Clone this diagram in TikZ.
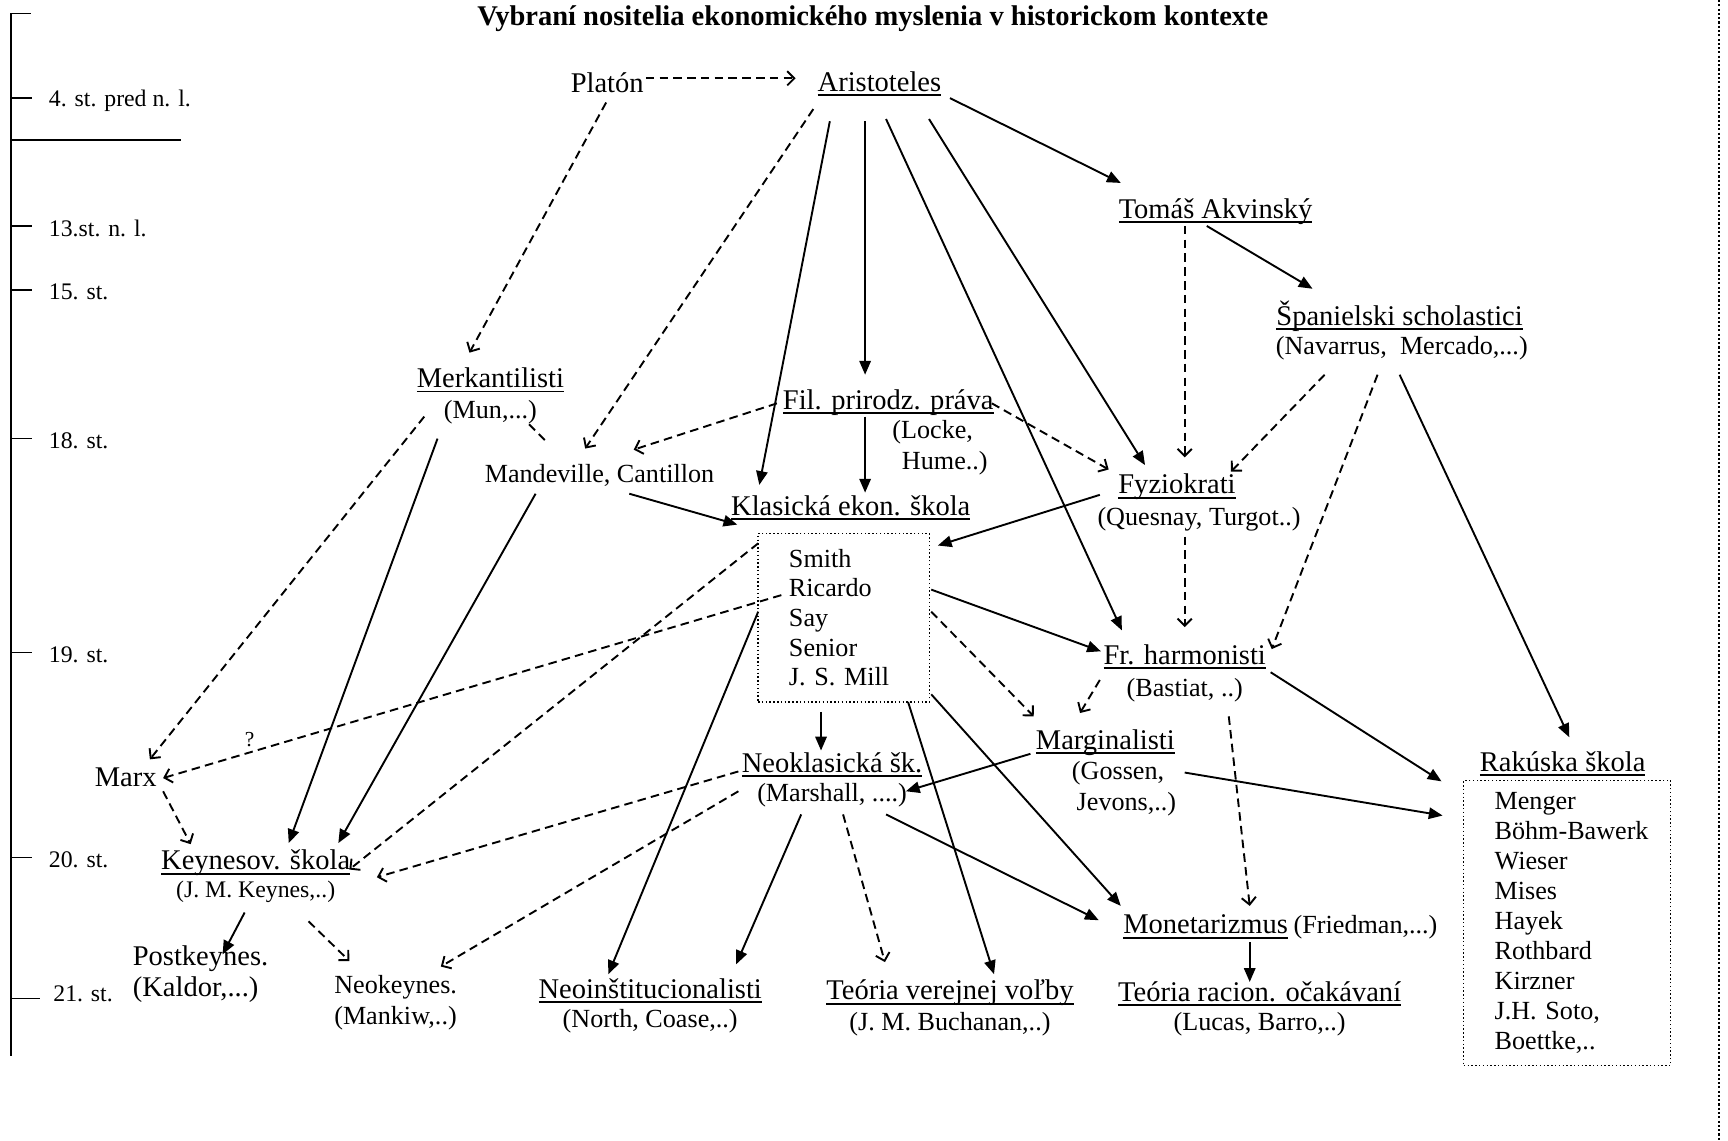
\documentclass[tikz,border=0pt]{standalone}
\usepackage{fontspec}
\setmainfont{Liberation Serif}
\usetikzlibrary{arrows.meta,calc,positioning}

\newsavebox{\ulnbox}
\newcommand{\uln}[1]{\sbox{\ulnbox}{#1}\rlap{\rule[-2pt]{\wd\ulnbox}{0.8pt}}\usebox{\ulnbox}}

\tikzset{
  head/.style={font=\fontsize{12}{13}\selectfont, inner sep=1pt},
  names/.style={font=\fontsize{11}{13}\selectfont, inner sep=1pt, align=center},
  era/.style={font=\fontsize{10}{12}\selectfont, anchor=west, inner sep=0pt},
  listbox/.style={draw, line width=0.5pt, dash pattern=on 0.6pt off 1pt, align=left,
    font=\fontsize{11}{12.5}\selectfont, inner xsep=13pt, inner ysep=0pt},
  sarrow/.style={line width=0.8pt, -{Triangle[length=5.8pt,width=4.8pt]}},
  darrow/.style={line width=0.8pt, dash pattern=on 3.6pt off 2.2pt, -{Straight Barb[length=3pt,width=6pt]}},
  dline/.style={line width=0.8pt, dash pattern=on 3.6pt off 2.2pt},
}

\begin{document}
\begin{tikzpicture}[x=0.4638pt,y=-0.4638pt]
  \useasboundingbox (0,0) rectangle (1568,1035);

  % time axis
  \draw[line width=0.6pt] (28,12) -- (10,12) -- (10,958);
  \draw[line width=0.6pt] (10,89) -- (29,89);
  \node[era] (e4) at (44,91) {4. st. pred n. l.};
  \draw[line width=0.5pt] (10,127) -- (164,127);
  \draw[line width=0.6pt] (10,205) -- (29,205);
  \node[era] (e13) at (44,207) {13.st. n. l.};
  \draw[line width=0.6pt] (10,263) -- (29,263);
  \node[era] (e15) at (44,265) {15. st.};
  \draw[line width=0.6pt] (10,398) -- (29,398);
  \node[era] (e18) at (44,400) {18. st.};
  \draw[line width=0.6pt] (10,592) -- (29,592);
  \node[era] (e19) at (44,594) {19. st.};
  \draw[line width=0.6pt] (10,778) -- (29,778);
  \node[era] (e20) at (44,780) {20. st.};
  \draw[line width=0.6pt] (10,906) -- (36,906);
  \node[era] (e21) at (48,902) {21. st.};
  \draw[line width=0.9pt, dash pattern=on 0.9pt off 0.9pt] (1560,0) -- (1560,1035);

  \node[font=\bfseries\fontsize{12}{14}\selectfont] (title) at (792,17)
    {Vybraní nositelia ekonomického myslenia v historickom kontexte};

  % schools and people
  \node[head] (plato) at (551,75) {Platón};
  \node[head] (aris) at (798,76) {\uln{Aristoteles}};
  \node[head] (tomas) at (1103,192) {\uln{Tomáš Akvinský}};
  \node[head] (span) at (1270,287) {\uln{Španielski scholastici}};
  \node[names] (spannames) at (1272,316) {(Navarrus,\ \ Mercado,...)};
  \node[head] (merk) at (445,345) {\uln{Merkantilisti}};
  \node[names] (merknames) at (445,374) {(Mun,...)};
  \node[head] (filo) at (806,365) {\uln{Fil. prirodz. práva}};
  \node[names, align=left] (filonames) at (853,406) {(Locke,\\\hspace{4pt}Hume..)};
  \node[head, font=\fontsize{11}{13}\selectfont] (mand) at (544,431) {Mandeville, Cantillon};
  \node[head] (klas) at (772,461) {\uln{Klasická ekon. škola}};
  \node[listbox, text width=46pt, minimum height=71pt] (klasbox) at (765.5,560.5)
    {Smith\\Ricardo\\Say\\Senior\\J. S. Mill};
  \node[head] (fyzio) at (1068,442) {\uln{Fyziokrati}};
  \node[names] (fyzionames) at (1088,471) {(Quesnay, Turgot..)};
  \node[head] (harm) at (1075,596) {\uln{Fr. harmonisti}};
  \node[names] (harmnames) at (1075,626) {(Bastiat, ..)};
  \node[head] (marg) at (1003,674) {\uln{Marginalisti}};
  \node[names, align=left] (margnames) at (1020,716) {(Gossen,\\\hspace{2pt}Jevons,..)};
  \node[head] (rak) at (1418,693) {\uln{Rakúska škola}};
  \node[listbox, text width=61pt, minimum height=120pt, font=\fontsize{11}{12.6}\selectfont]
    (rakbox) at (1422,837.5)
    {Menger\\\mbox{Böhm-Bawerk}\\Wieser\\Mises\\Hayek\\Rothbard\\Kirzner\\J.H. Soto,\\Boettke,..};
  \node[head] (marx) at (114,705) {Marx};
  \node[head] (neokl) at (755,694) {\uln{Neoklasická šk.}};
  \node[names] (neoklnames) at (755,722) {(Marshall, ....)};
  \node[head] (keyn) at (232,783) {\uln{Keynesov. škola}};
  \node[names, font=\fontsize{10}{12}\selectfont] (keynnames) at (232,809) {(J. M. Keynes,..)};
  \node[head, align=left] (postk) at (182,884) {Postkeynes.\\(Kaldor,...)};
  \node[names, align=left] (neok) at (359,910) {Neokeynes.\\(Mankiw,..)};
  \node[head] (neoinst) at (590,899) {\uln{Neoinštitucionalisti}};
  \node[names] (neoinstnames) at (590,927) {(North, Coase,..)};
  \node[head] (tvv) at (862,901) {\uln{Teória verejnej voľby}};
  \node[names] (tvvnames) at (862,929) {(J. M. Buchanan,..)};
  \node[head] (mon) at (1094,841) {\uln{Monetarizmus}};
  \node[names, right=0pt of mon] (monnames) {(Friedman,...)};
  \node[head] (trac) at (1143,902) {\uln{Teória racion. očakávaní}};
  \node[names] (tracnames) at (1143,929) {(Lucas, Barro,..)};

  % direct influence
  \draw[sarrow] ($(aris)+(64,13)$) -- ($(tomas)+(-86,-26)$);
  \draw[sarrow] ($(tomas)+(-8,13)$) -- ($(span)+(-79,-25)$);
  \draw[sarrow] ($(aris)+(-45,34)$) -- ($(klas)+(-83,-21)$);
  \draw[sarrow] ($(aris)+(-13,34)$) -- ($(filo)+(-21,-25)$);
  \draw[sarrow] ($(filo)+(-21,13)$) -- ($(klas)+(13,-14)$);
  \draw[sarrow] ($(aris)+(6,32)$) -- ($(harm)+(-57,-24)$);
  \draw[sarrow] ($(aris)+(45,32)$) -- ($(fyzio)+(-29,-20)$);
  \draw[sarrow] ($(spannames)+(-2,24)$) -- ($(rak)+(6,-24)$);
  \draw[sarrow] ($(merknames)+(-48,24)$) -- ($(keyn)+(30,-18)$);
  \draw[sarrow] ($(mand)+(-58,17)$) -- ($(keyn)+(75,-18)$);
  \draw[sarrow] ($(mand)+(27,17)$) -- ($(klas)+(-103,15)$);
  \draw[sarrow] ($(fyzio)+(-70,7)$) -- ($(klasbox)+(85.5,-65.5)$);
  \draw[sarrow] ($(klasbox)+(79.5,-25.5)$) -- ($(harm)+(-76,-5)$);
  \draw[sarrow] ($(klasbox)+(-20.5,85.5)$) -- ($(neokl)+(-10,-13)$);
  \draw[sarrow] ($(klasbox)+(-77.5,-5.5)$) -- ($(neoinst)+(-38,-15)$);
  \draw[sarrow] ($(klasbox)+(58.5,76.5)$) -- ($(tvv)+(40,-17)$);
  \draw[sarrow] ($(klasbox)+(79.5,69.5)$) -- ($(mon)+(-77,-19)$);
  \draw[sarrow] ($(marg)+(-68,10)$) -- ($(neoklnames)+(67,-4)$);
  \draw[sarrow] ($(margnames)+(55,-15)$) -- ($(rakbox)+(-113,-97.5)$);
  \draw[sarrow] ($(harm)+(78,14)$) -- ($(rak)+(-110,16)$);
  \draw[sarrow] ($(neoklnames)+(-28,17)$) -- ($(neoinst)+(78,-24)$);
  \draw[sarrow] ($(neoklnames)+(49,17)$) -- ($(mon)+(-97,-6)$);
  \draw[sarrow] ($(keynnames)+(-10,19)$) -- ($(postk)+(20,-18)$);
  \draw[sarrow] ($(mon)+(40,14)$) -- ($(trac)+(-9,-11)$);

  % indirect influence
  \draw[darrow] ($(plato)+(35,-4)$) -- ($(aris)+(-76,-5)$);
  \draw[darrow] ($(plato)+(-1,18)$) -- ($(merk)+(-19,-25)$);
  \draw[darrow] ($(aris)+(-60,23)$) -- ($(mand)+(-13,-24)$);
  \draw[dline] ($(merknames)+(35,11)$) -- ($(mand)+(-49,-31)$);
  \draw[darrow] ($(filo)+(-101,1)$) -- ($(mand)+(31,-23)$);
  \draw[darrow] ($(filo)+(94,1)$) -- ($(fyzio)+(-62,-16)$);
  \draw[darrow] ($(tomas)+(-28,13)$) -- ($(fyzio)+(7,-27)$);
  \draw[darrow] ($(spannames)+(-70,24)$) -- ($(fyzio)+(49,-14)$);
  \draw[darrow] ($(spannames)+(-22,24)$) -- ($(harm)+(79,-7)$);
  \draw[darrow] ($(fyzionames)+(-13,16)$) -- ($(harm)+(0,-27)$);
  \draw[darrow] ($(merknames)+(-60,4)$) -- ($(marx)+(22,-16)$);
  \draw[darrow] ($(klasbox)+(-56.5,-20.5)$) --
    node[pos=0.86, above=2pt, inner sep=0pt, font=\fontsize{9}{10}\selectfont] (qm) {?}
    ($(marx)+(34,1)$);
  \draw[darrow] ($(klasbox)+(-77.5,-67.5)$) -- ($(keyn)+(85,6)$);
  \draw[darrow] ($(klasbox)+(79.5,-5.5)$) -- ($(marg)+(-65,-24)$);
  \draw[darrow] ($(harm)+(-77,21)$) -- ($(marg)+(-23,-27)$);
  \draw[darrow] ($(harmnames)+(40,24)$) -- ($(mon)+(40,-19)$);
  \draw[darrow] ($(neokl)+(-85,6)$) -- ($(keyn)+(110,13)$);
  \draw[darrow] ($(neoklnames)+(-85,-4)$) -- ($(neok)+(41,-33)$);
  \draw[darrow] ($(neoklnames)+(10,17)$) -- ($(tvv)+(-59,-28)$);
  \draw[darrow] ($(marx)+(34,13)$) -- ($(keyn)+(-59,-17)$);
  \draw[darrow] ($(keynnames)+(48,27)$) -- ($(neok)+(-42,-38)$);
\end{tikzpicture}
\end{document}
